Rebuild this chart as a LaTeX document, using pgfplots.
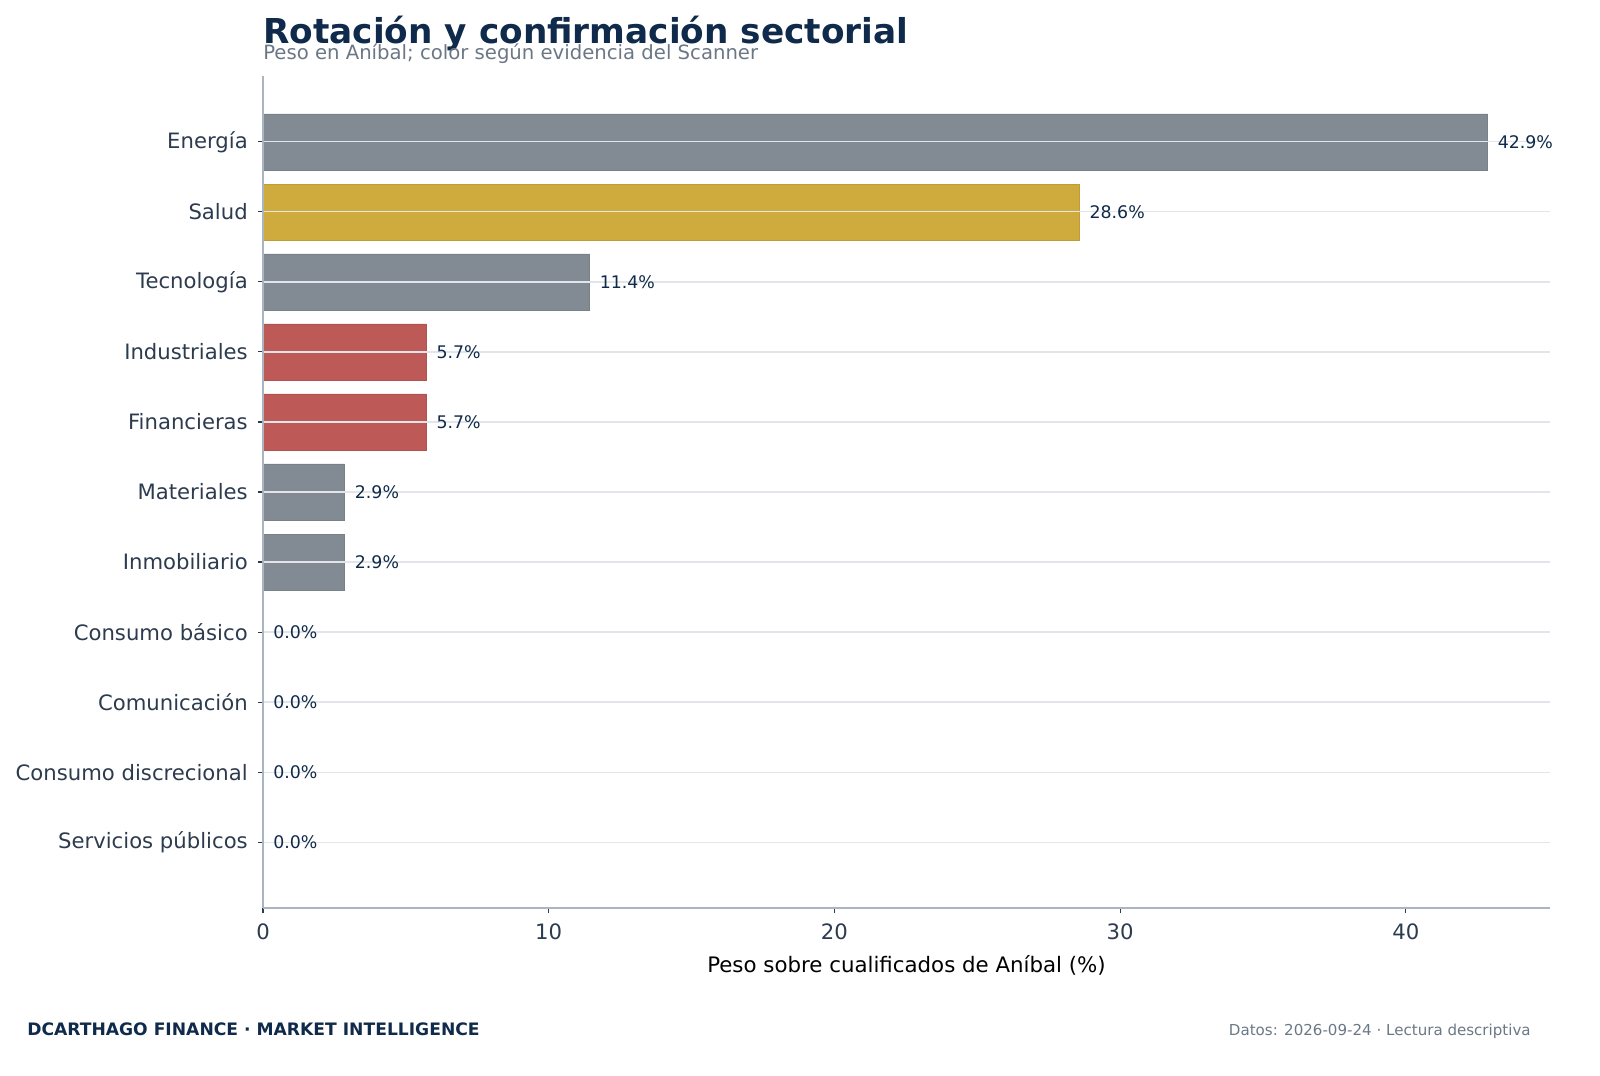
\documentclass[border=0pt]{standalone}
\usepackage{pgfplots}
\pgfplotsset{compat=1.18}
\usepackage{fontspec}
\setmainfont{DejaVu Sans}
\definecolor{bargray}{HTML}{828B94}
\definecolor{bargold}{HTML}{CFAA3C}
\definecolor{barred}{HTML}{BD5A58}
\definecolor{navy}{HTML}{0F2A4A}
\definecolor{subgray}{HTML}{6B7785}
\definecolor{tickc}{HTML}{2D3B4E}
\definecolor{gridc}{HTML}{E2E6EA}
\definecolor{spinec}{HTML}{AAB4C2}
\begin{document}
\begin{tikzpicture}
\node[anchor=base west, inner sep=0pt, text=navy, font=\fontsize{24.7bp}{29bp}\selectfont\bfseries] at (189.36bp,-31.2bp) {Rotación y confirmación sectorial};
\node[anchor=base west, inner sep=0pt, text=subgray, font=\fontsize{14.15bp}{16bp}\selectfont] at (189.36bp,-42.48bp) {Peso en Aníbal; color según evidencia del Scanner};
\node[anchor=base west, inner sep=0pt, text=navy, font=\fontsize{12.35bp}{15bp}\selectfont\bfseries] at (19.44bp,-745.2bp) {DCARTHAGO FINANCE · MARKET INTELLIGENCE};
\node[anchor=base east, inner sep=0pt, text=subgray, font=\fontsize{10.85bp}{13bp}\selectfont] at (1102.3bp,-745.2bp) {Datos: 2026-09-24 · Lectura descriptiva};
\begin{axis}[
  at={(189.36bp,-653.76bp)}, anchor=south west,
  scale only axis, width=926.64bp, height=599.04bp,
  xmin=0, xmax=45.045, ymin=-0.94, ymax=10.94,
  xbar, bar width=0.8,
  axis x line*=bottom, axis y line*=left,
  axis line style={spinec, line width=1bp},
  ytick={0,1,2,3,4,5,6,7,8,9,10},
  yticklabels={Servicios públicos,Consumo discrecional,Comunicación,Consumo básico,Inmobiliario,Materiales,Financieras,Industriales,Tecnología,Salud,Energía},
  xtick={0,10,20,30,40},
  /pgf/number format/assume math mode=true,
  tick align=outside, major tick length=3.6bp,
  tick style={tickc, line width=0.8bp},
  ymajorgrids, grid style={gridc, line width=0.9bp},
  axis on top,
  ticklabel style={font=\fontsize{15.25bp}{18bp}\selectfont, text=tickc},
  yticklabel style={anchor=east, inner sep=0pt, xshift=-7.2bp},
  xticklabel style={anchor=north, inner sep=0pt, yshift=-7.9bp},
  xlabel={Peso sobre cualificados de Aníbal (\%)},
  xlabel style={at={(axis description cs:0.5,0)}, anchor=center, yshift=-41bp, font=\fontsize{15.35bp}{18bp}\selectfont, text=black},
  point meta=x,
  nodes near coords={\pgfmathprintnumber[fixed,fixed zerofill,precision=1]{\pgfplotspointmeta}\%},
  nodes near coords style={anchor=west, inner sep=0pt, xshift=7.2bp, text=navy, font=\fontsize{12.5bp}{15bp}\selectfont, /pgf/number format/assume math mode=true},
  clip=false,
]
\addplot[bar shift=0pt, fill=bargray, draw=bargray!92!black, line width=0.4bp] coordinates {(42.857,10) (11.429,8) (2.857,5) (2.857,4)};
\addplot[bar shift=0pt, fill=bargold, draw=bargold!92!black, line width=0.4bp] coordinates {(28.571,9)};
\addplot[bar shift=0pt, fill=barred, draw=barred!92!black, line width=0.4bp] coordinates {(5.714,7) (5.714,6)};
\addplot[bar shift=0pt, draw=none, fill=none] coordinates {(0,3) (0,2) (0,1) (0,0)};
\end{axis}
\pgfresetboundingbox
\path[use as bounding box] (0,0) rectangle (1152bp,-774.72bp);
\end{tikzpicture}
\end{document}
